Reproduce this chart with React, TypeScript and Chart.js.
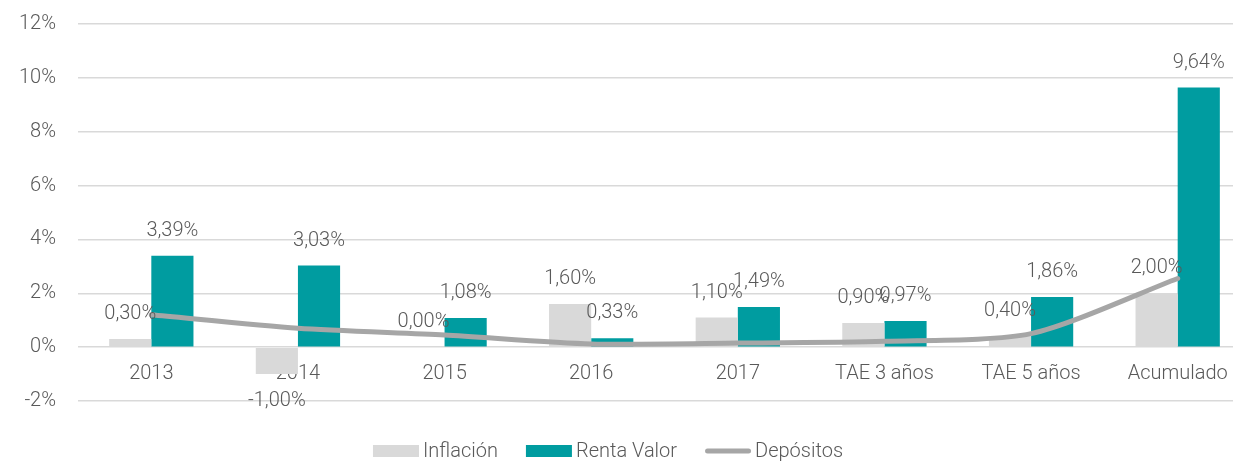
import React, { useEffect, useRef } from 'react';
import { Chart, registerables } from 'chart.js';

Chart.register(...registerables);

const categories = ['2013', '2014', '2015', '2016', '2017', 'TAE 3 años', 'TAE 5 años', 'Acumulado'];
const inflacion = [0.3, -1.0, 0.0, 1.6, 1.1, 0.9, 0.4, 2.0];
const rentaValor = [3.39, 3.03, 1.08, 0.33, 1.49, 0.97, 1.86, 9.64];
const depositos = [1.2, 0.7, 0.45, 0.12, 0.15, 0.22, 0.5, 2.55];
const yMin = -2;
const yMax = 12;
const yStep = 2;

const FONT = 'Roboto, "Liberation Sans", sans-serif';
const TEXT = '#595959';
const C_INF = '#d9d9d9';
const C_RV = '#009ca0';
const C_DEP = '#a6a6a6';

const fmt = (v: number) => v.toFixed(2).replace('.', ',') + '%';

const labelPlugin = {
  id: 'barLabels',
  afterDatasetsDraw(chart: any) {
    const ctx = chart.ctx;
    ctx.save();
    ctx.font = `300 20px ${FONT}`;
    ctx.fillStyle = TEXT;
    ctx.textAlign = 'center';
    ctx.textBaseline = 'middle';
    chart.data.datasets.forEach((ds: any, di: number) => {
      if (ds.type === 'line') return;
      const meta = chart.getDatasetMeta(di);
      meta.data.forEach((el: any, i: number) => {
        const v = ds.data[i];
        const y = v >= 0 ? el.y - 25 : el.y + 27;
        ctx.fillText(fmt(v), el.x, y);
      });
    });
    ctx.restore();
  },
};

const legendPlugin = {
  id: 'customLegend',
  afterDraw(chart: any) {
    const ctx = chart.ctx;
    ctx.save();
    ctx.font = `300 20px ${FONT}`;
    ctx.textBaseline = 'middle';
    ctx.textAlign = 'left';
    const boxW = 46;
    const gap = 4;
    const spacing = 28;
    const items = chart.data.datasets.map((ds: any) => ({
      label: ds.label,
      type: ds.type,
      color: ds.type === 'line' ? ds.borderColor : ds.backgroundColor,
    }));
    const widths = items.map((it: any) => boxW + gap + ctx.measureText(it.label).width);
    const total = widths.reduce((a: number, b: number) => a + b, 0) + spacing * (items.length - 1);
    let x = 608 - total / 2;
    const y = 451;
    items.forEach((it: any, i: number) => {
      if (it.type === 'line') {
        ctx.strokeStyle = it.color;
        ctx.lineWidth = 5;
        ctx.lineCap = 'round';
        ctx.beginPath();
        ctx.moveTo(x + 2.5, y);
        ctx.lineTo(x + boxW - 2.5, y);
        ctx.stroke();
      } else {
        ctx.fillStyle = it.color;
        ctx.fillRect(x, y - 6, boxW, 12);
      }
      ctx.fillStyle = TEXT;
      ctx.fillText(it.label, x + boxW + gap, y + 1);
      x += widths[i] + spacing;
    });
    ctx.restore();
  },
};

export default function App() {
  const ref = useRef<HTMLCanvasElement>(null);
  useEffect(() => {
    document.body.style.margin = '0';
    document.body.style.overflow = 'hidden';
    const chart = new Chart(ref.current as HTMLCanvasElement, {
      type: 'bar',
      data: {
        labels: categories,
        datasets: [
          {
            type: 'bar',
            label: 'Inflación',
            data: inflacion,
            backgroundColor: C_INF,
            categoryPercentage: 0.575,
            barPercentage: 1,
            order: 1,
          },
          {
            type: 'bar',
            label: 'Renta Valor',
            data: rentaValor,
            backgroundColor: C_RV,
            categoryPercentage: 0.575,
            barPercentage: 1,
            order: 1,
          },
          {
            type: 'line',
            label: 'Depósitos',
            data: depositos,
            borderColor: C_DEP,
            backgroundColor: C_DEP,
            borderWidth: 5,
            pointRadius: 0,
            tension: 0.25,
            borderCapStyle: 'round',
            order: 0,
          } as any,
        ],
      },
      options: {
        animation: false,
        responsive: false,
        devicePixelRatio: 1,
        layout: { padding: { top: 24, bottom: 61, left: 0, right: 0 } },
        scales: {
          x: {
            position: { y: 0 } as any,
            z: 1,
            grid: { display: false },
            border: { display: false },
            ticks: { font: { family: FONT, size: 20, weight: 300 as any }, color: TEXT, padding: 7, maxRotation: 0 },
            afterFit: (s: any) => {
              s.paddingTop = 0;
              s.paddingBottom = 0;
              s.paddingLeft = 0;
              s.paddingRight = 0;
              s.height = 0;
            },
          },
          y: {
            min: yMin,
            max: yMax,
            border: { display: false },
            grid: { color: C_INF, lineWidth: 1.5, drawTicks: false },
            ticks: {
              stepSize: yStep,
              padding: 22,
              font: { family: FONT, size: 20, weight: 300 as any },
              color: TEXT,
              callback: (v: any) => v + '%',
            },
            afterFit: (s: any) => {
              s.width = 78;
              s.paddingTop = 0;
              s.paddingBottom = 0;
            },
          },
        },
        plugins: {
          tooltip: { enabled: false },
          legend: { display: false },
        },
      },
      plugins: [labelPlugin, legendPlugin],
    });
    return () => chart.destroy();
  }, []);
  return <canvas ref={ref} width={1251} height={462} style={{ display: 'block' }} />;
}
